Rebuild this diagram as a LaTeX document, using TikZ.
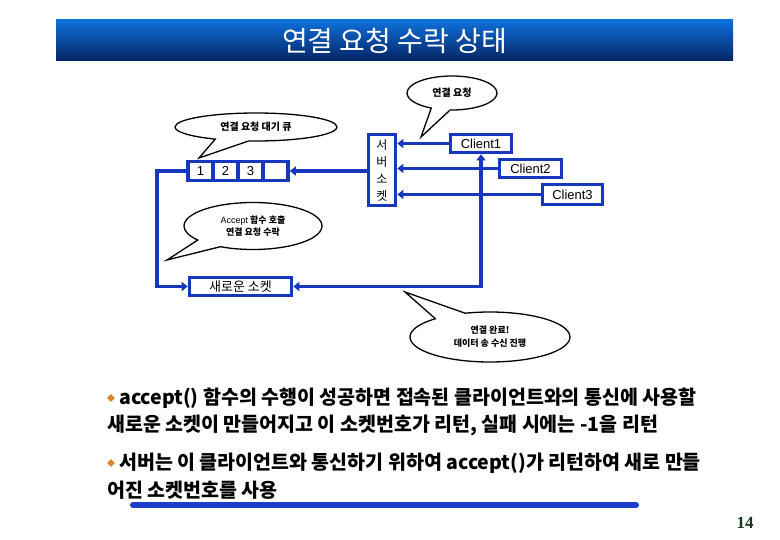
\documentclass[tikz,border=0pt]{standalone}
\usepackage{fontspec}
\setmainfont{Liberation Sans}
\newfontfamily\kr{Noto Sans CJK KR}
\newfontfamily\numfont{Liberation Serif}
\usetikzlibrary{arrows.meta,shapes.callouts,shapes.geometric}
\definecolor{lineblue}{RGB}{22,56,190}
\definecolor{barblue}{RGB}{28,62,205}
\definecolor{bartop}{RGB}{14,112,218}
\definecolor{barbot}{RGB}{4,36,100}
\definecolor{bulletor}{RGB}{215,135,40}
\definecolor{pagenum}{RGB}{25,55,25}
\begin{document}
\begin{tikzpicture}[x=1pt,y=-1pt,
  arr/.tip={Triangle[length=6pt,width=9pt]},
  box/.style={draw=lineblue, line width=3.6pt, fill=white, inner sep=0pt, font=\fontsize{13}{15}\selectfont},
  conn/.style={draw=lineblue, line width=3.4pt, -arr},
  bubble/.style={ellipse callout, draw=black, line width=1.3pt, fill=white, inner sep=0pt, callout pointer arc=25, align=center, font=\kr\bfseries\fontsize{10}{12}\selectfont},
  bul/.style={diamond, fill=bulletor, inner sep=0pt, minimum size=8pt},
  btext/.style={anchor=west, inner sep=0pt, font=\kr\bfseries\fontsize{19.5}{22}\selectfont}
  ]
\useasboundingbox (0,0) rectangle (780,540);
\fill[white] (0,0) rectangle (780,540);

% title
\node[inner sep=0pt, minimum width=677pt, minimum height=41pt, top color=bartop, bottom color=barbot,
      text=white, font=\kr\fontsize{28}{30}\selectfont] (title) at (394.5,40.5) {연결 요청 수락 상태};

% boxes
\node[box, minimum width=61pt, minimum height=18pt] (c1) at (481,143.5) {Client1};
\node[box, minimum width=62pt, minimum height=18pt] (c2) at (530.5,168.5) {Client2};
\node[box, minimum width=60pt, minimum height=20pt] (c3) at (572.5,194.5) {Client3};
\node[box, minimum width=27pt, minimum height=71pt, align=center, font=\kr\fontsize{12}{17}\selectfont] (sock) at (382,170) {서\\버\\소\\켓};
\node[box, minimum width=25pt, minimum height=19pt] (q1) at (200.5,171) {1};
\node[box, minimum width=25pt, minimum height=19pt] (q2) at (225.5,171) {2};
\node[box, minimum width=25pt, minimum height=19pt] (q3) at (250.5,171) {3};
\node[box, minimum width=25pt, minimum height=19pt] (q4) at (275.5,171) {};
\node[box, minimum width=102pt, minimum height=18pt, font=\kr\fontsize{13}{15}\selectfont] (ns) at (240.5,286.5) {새로운 소켓};

% connectors
\coordinate (lx) at (157,0);
\draw[conn] (c1.west) -- (c1.west -| sock.east);
\draw[conn] (c2.west) -- (c2.west -| sock.east);
\draw[conn] (c3.west) -- (c3.west -| sock.east);
\draw[conn] (q4.east -| sock.west) -- (q4.east);
\draw[conn] (q1.west) -- (q1.west -| lx) |- (ns.west);
\draw[conn, arr-arr] (c1.south) -- (c1.south |- ns.east) -- (ns.east);

% callouts
\node[bubble, minimum width=90pt, minimum height=34pt, callout absolute pointer={(421,137)}] (breq) at (452,93) {연결 요청};
\node[bubble, minimum width=162pt, minimum height=28pt, callout absolute pointer={(199,158)}] (bq) at (256,127) {연결 요청 대기 큐};
\node[bubble, minimum width=138pt, minimum height=47pt, font=\kr\bfseries\fontsize{9}{12}\selectfont, callout absolute pointer={(167,260)}] (bacc) at (253,226) {{\mdseries\fontspec{Liberation Sans}Accept} 함수 호출\\연결 요청 수락};
\node[bubble, minimum width=160pt, minimum height=50pt, font=\kr\bfseries\fontsize{9}{13}\selectfont, callout absolute pointer={(405,292)}] (bdone) at (490,337) {연결 완료!\\데이터 송 수신 진행};

% bullet text
\node[bul] (b1) at (111,398) {};
\node[btext] (t1) at (119,398) {accept() 함수의 수행이 성공하면 접속된 클라이언트와의 통신에 사용할};
\node[btext] (t2) at (107,425) {새로운 소켓이 만들어지고 이 소켓번호가 리턴, 실패 시에는 -1을 리턴};
\node[bul] (b2) at (111,463) {};
\node[btext] (t3) at (119,463) {서버는 이 클라이언트와 통신하기 위하여 accept()가 리턴하여 새로 만들};
\node[btext] (t4) at (107,490) {어진 소켓번호를 사용};

\draw[barblue, line width=6pt, line cap=round] (133,505) -- (636,505);
\node[font=\numfont\bfseries\fontsize{17}{20}\selectfont, text=pagenum] (pg) at (745,523) {14};
\end{tikzpicture}
\end{document}
